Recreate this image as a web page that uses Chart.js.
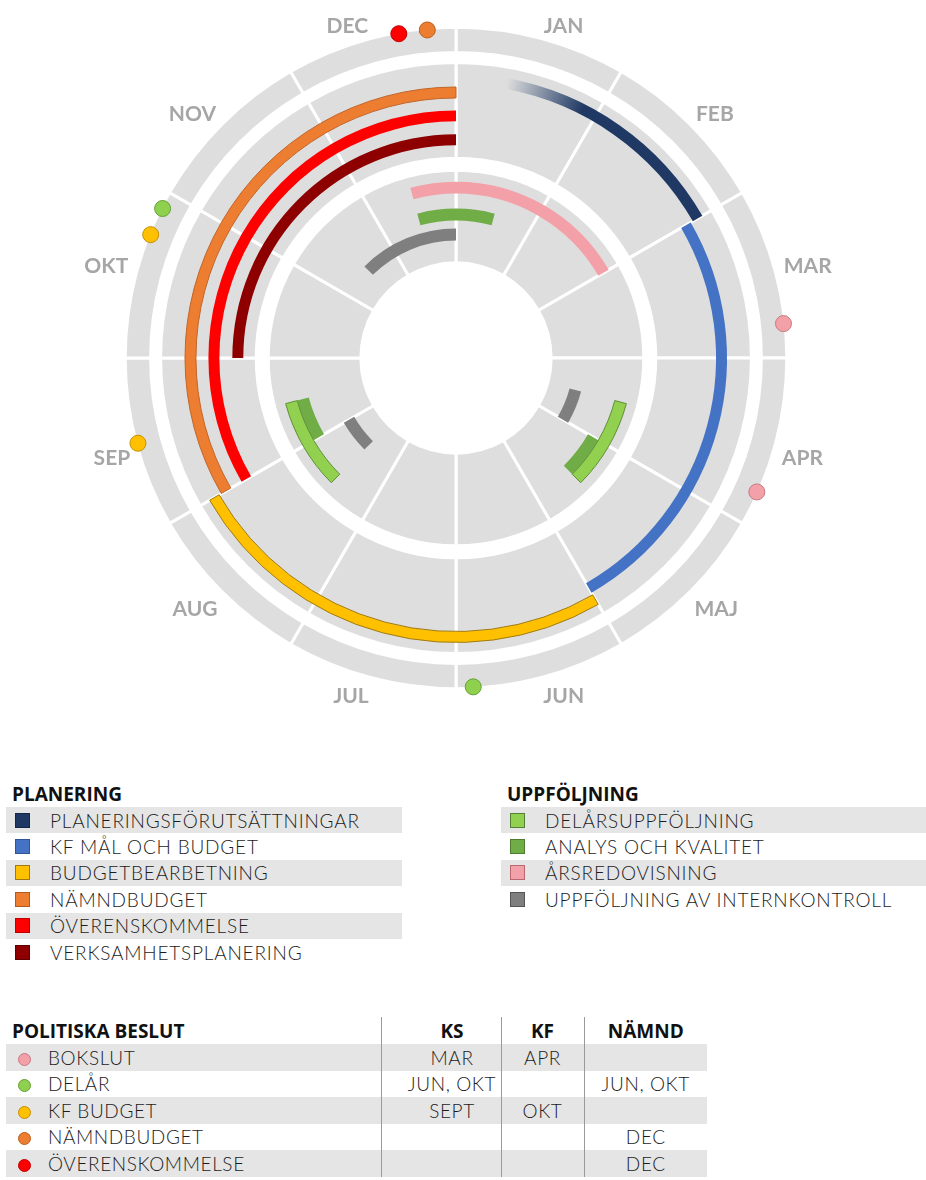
<!DOCTYPE html>
<html lang="sv">
<head>
<meta charset="utf-8">
<title>Årshjul</title>
<script src="https://cdn.jsdelivr.net/npm/chart.js@4.4.1/dist/chart.umd.min.js"></script>
<style>
  html, body { margin: 0; background: #fff; }
  body { position: relative; width: 926px; height: 1180px; overflow: hidden;
         font-family: 'Lato', sans-serif; font-weight: 300; color: #1c1c1c; }
  .wheel { position: absolute; left: 0; top: 7px; }
  .head { font-family: 'Open Sans', sans-serif; font-weight: 700; font-size: 19px; color: #111; }
  .legend { position: absolute; top: 781px; }
  #planering { left: 6px; width: 396px; }
  #uppfoljning { left: 501px; width: 425px; }
  .legend .head { height: 26px; line-height: 26px; padding-left: 6px; }
  .legend .row { height: 26.4px; display: flex; align-items: center; font-size: 19px; letter-spacing: .8px; }
  .legend .row:nth-child(even) { background: #e5e5e5; }
  .sw { width: 15px; height: 15px; box-sizing: border-box; border: 1px solid; margin: 0 20px 0 9px; flex: none; }
  #beslut { position: absolute; left: 6px; top: 1017px; border-collapse: collapse; table-layout: fixed; width: 701px; }
  #beslut td, #beslut th { padding: 0; height: 26.5px; font-size: 19px; letter-spacing: .6px; white-space: nowrap; }
  #beslut th { height: 27px; text-align: center; letter-spacing: 0; }
  #beslut th:first-child { text-align: left; padding-left: 6px; }
  #beslut tbody tr:nth-child(odd) td { background: #e5e5e5; }
  #beslut td + td, #beslut th + th { border-left: 1px solid #9a9a9a; text-align: center; }
  #beslut td:nth-child(2), #beslut th:nth-child(2) { padding-left: 22px; }
  .dot { display: inline-block; width: 13px; height: 13px; border-radius: 50%; box-sizing: border-box;
         border: 1px solid; margin: 0 17px 0 12px; vertical-align: -1px; }
</style>
</head>
<body>
<canvas id="grid" class="wheel" width="912" height="702"></canvas>
<canvas id="arcs" class="wheel" width="912" height="702"></canvas>
<canvas id="labels" class="wheel" width="912" height="702"></canvas>
<div id="planering" class="legend"><div class="head">PLANERING</div></div>
<div id="uppfoljning" class="legend"><div class="head">UPPFÖLJNING</div></div>
<table id="beslut">
  <colgroup><col style="width:375px"><col style="width:120px"><col style="width:83px"><col style="width:123px"></colgroup>
  <thead><tr><th class="head">POLITISKA BESLUT</th><th class="head">KS</th><th class="head">KF</th><th class="head">NÄMND</th></tr></thead>
  <tbody></tbody>
</table>
<script>
const months = ['JAN', 'FEB', 'MAR', 'APR', 'MAJ', 'JUN', 'JUL', 'AUG', 'SEP', 'OKT', 'NOV', 'DEC'];

// periods as [start, end] in months from 1 jan (12 = end of dec, >12 runs into next year)
const planeringsforutsattningar = [[0.35, 2]];
const kfMalOchBudget = [[2, 5]];
const budgetbearbetning = [[5, 8]];
const namndbudget = [[8, 12]];
const overenskommelse = [[8, 12]];
const verksamhetsplanering = [[9, 12]];

const delarsuppfoljning = [[3.5, 4.5], [7.5, 8.5]];
const analysOchKvalitet = [[4, 4.5], [8, 8.5], [11.5, 12.5]];
const arsredovisning = [[11.5, 14]];
const internkontroll = [[3.5, 4], [7.5, 8], [10.5, 12]];

// politiska beslut
const beslut = ['BOKSLUT', 'DELÅR', 'KF BUDGET', 'NÄMNDBUDGET', 'ÖVERENSKOMMELSE'];
const beslutKS = ['MAR', 'JUN, OKT', 'SEPT', '', ''];
const beslutKF = ['APR', '', 'OKT', '', ''];
const beslutNamnd = ['', 'JUN, OKT', '', 'DEC', 'DEC'];
const beslutGrader = [[84, 114], [177, 297], [255, 292], [355], [350]]; // place on the wheel, degrees

// styles
const planering = [
  { name: 'PLANERINGSFÖRUTSÄTTNINGAR', data: planeringsforutsattningar, color: '#1f3864', edge: '#14264a', fade: 0.55 },
  { name: 'KF MÅL OCH BUDGET', data: kfMalOchBudget, color: '#4472c4', edge: '#2f5597' },
  { name: 'BUDGETBEARBETNING', data: budgetbearbetning, color: '#ffc000', edge: '#a07a10', border: '#a07a10' },
  { name: 'NÄMNDBUDGET', data: namndbudget, color: '#ed7d31', edge: '#b05a20', border: '#c0652a' },
  { name: 'ÖVERENSKOMMELSE', data: overenskommelse, color: '#ff0000', edge: '#c00000' },
  { name: 'VERKSAMHETSPLANERING', data: verksamhetsplanering, color: '#8e0000', edge: '#600000' }
];
const uppfoljning = [
  { name: 'DELÅRSUPPFÖLJNING', data: delarsuppfoljning, color: '#92d050', edge: '#548235', border: '#5e8f36' },
  { name: 'ANALYS OCH KVALITET', data: analysOchKvalitet, color: '#70ad47', edge: '#4e7d30' },
  { name: 'ÅRSREDOVISNING', data: arsredovisning, color: '#f4a0a8', edge: '#b86870' },
  { name: 'UPPFÖLJNING AV INTERNKONTROLL', data: internkontroll, color: '#7f7f7f', edge: '#555555' }
];
const beslutFarg = ['#f4a0a8', '#8fd14f', '#ffc000', '#ed7d31', '#ff0000'];
const beslutKant = ['#c87880', '#62a033', '#c49000', '#b85d20', '#c00000'];

// wheel layout, px for an outer radius of 330.5
const center = { x: 456, y: 358 };
const greyRings = [[330.5, 308], [295, 202], [187, 97]];
const divider = 3;
const tracks = [
  { r: 285.5, w: 11, parts: [[planering[0], 0], [planering[2], 0]] },
  { r: 272, w: 11, parts: [[planering[1], 0], [planering[3], 0]] },
  { r: 248.5, w: 11, parts: [[planering[4], 0]] },
  { r: 224.5, w: 11, parts: [[planering[5], 0]] },
  { r: 177, w: 12, parts: [[uppfoljning[2], 0], [uppfoljning[0], 0], [uppfoljning[0], 1]] },
  { r: 165, w: 12, parts: [[uppfoljning[1], 0], [uppfoljning[1], 1]] },
  { r: 150, w: 12, parts: [[uppfoljning[1], 2]] },
  { r: 130, w: 12, parts: [[uppfoljning[3], 0], [uppfoljning[3], 1], [uppfoljning[3], 2]] }
];

const W = 912, H = 702;
const off = { responsive: false, animation: false, events: [],
  plugins: { legend: { display: false }, tooltip: { enabled: false } } };
const pct = x => (x * 100).toFixed(4) + '%';
const upper = i => i < 90 || i > 270;

// month names and decision dots
const degrees = Array.from({ length: 360 }, (_, i) => i);
const radar = new Chart(document.getElementById('labels'), {
  type: 'radar',
  data: {
    labels: degrees,
    datasets: beslut.map((name, i) => ({
      label: name,
      data: degrees.map(d => beslutGrader[i].includes(d) ? 1 : null),
      showLine: false, fill: false, borderWidth: 0,
      backgroundColor: 'transparent', borderColor: 'transparent',
      pointRadius: 8, pointHoverRadius: 8, pointBorderWidth: 1,
      pointBackgroundColor: beslutFarg[i], pointBorderColor: beslutKant[i]
    }))
  },
  options: {
    ...off,
    scales: {
      r: {
        min: 0, max: 1, startAngle: 0,
        grid: { display: false }, angleLines: { display: false }, ticks: { display: false },
        pointLabels: {
          callback: (v, i) => (i % 30 === 15 ? months[(i - 15) / 30] : ''),
          color: '#a6a6a6',
          padding: c => (c.label ? (upper(c.index) ? 10 : 8) : 0),
          font: c => ({ family: 'Lato', weight: 'bold', size: c.label ? 21 : 1,
            lineHeight: c.label && upper(c.index) ? 0.4 : 1.2 })
        }
      }
    }
  }
});

const sc = radar.scales.r;
const k = sc.drawingArea / 330.5;
document.querySelectorAll('.wheel').forEach(cv => {
  cv.style.left = (center.x - sc.xCenter) + 'px';
  cv.style.top = (center.y - sc.yCenter) + 'px';
});
const pad = {
  left: Math.max(0, 2 * sc.xCenter - W), right: Math.max(0, W - 2 * sc.xCenter),
  top: Math.max(0, 2 * sc.yCenter - H), bottom: Math.max(0, H - 2 * sc.yCenter)
};

// grey month rings
const greySets = [];
greyRings.forEach(([o, i], n) => {
  greySets.push({ data: months.map(() => 1), backgroundColor: '#dedede', borderColor: '#ffffff',
    borderWidth: divider, weight: o - i + divider });
  const next = greyRings[n + 1];
  if (next) greySets.push({ data: [12], backgroundColor: 'transparent', borderWidth: 0, weight: i - next[0] - divider });
});
const outerG = greyRings[0][0] + divider / 2;
const innerG = greyRings[greyRings.length - 1][1] - divider / 2;
new Chart(document.getElementById('grid'), {
  type: 'doughnut',
  data: { datasets: greySets },
  options: { ...off, layout: { padding: pad }, radius: outerG * k, cutout: pct(innerG / outerG) }
});

// coloured periods
function segments(parts) {
  const pieces = [];
  parts.forEach(([serie, idx]) => {
    const [a, b] = serie.data[idx];
    if (b > 12) {
      pieces.push({ a, b: 12, serie });
      pieces.push({ a: 0, b: b - 12, serie });
    } else {
      pieces.push({ a, b, serie });
    }
  });
  pieces.sort((p, q) => p.a - q.a);
  const segs = [];
  let at = 0;
  pieces.forEach(p => {
    if (p.a > at) segs.push({ len: p.a - at, serie: null });
    segs.push({ len: p.b - p.a, serie: p.serie });
    at = p.b;
  });
  if (at < 12) segs.push({ len: 12 - at, serie: null });
  return segs;
}

function rgba(hex, a) {
  const n = parseInt(hex.slice(1), 16);
  return `rgba(${n >> 16},${(n >> 8) & 255},${n & 255},${a})`;
}

function fillFor(seg, chart) {
  if (!seg || !seg.serie) return 'transparent';
  const s = seg.serie;
  if (!s.fade || !chart.chartArea) return s.color;
  const { left, right, top, bottom } = chart.chartArea;
  const g = chart.ctx.createConicGradient(-Math.PI / 2, (left + right) / 2, (top + bottom) / 2);
  const start = s.data[0][0] / 12;
  g.addColorStop(start, rgba(s.color, 0));
  g.addColorStop(start + s.fade / 12, s.color);
  g.addColorStop(1, s.color);
  return g;
}

const arcSets = [];
tracks.forEach((t, n) => {
  const segs = segments(t.parts);
  arcSets.push({
    data: segs.map(s => s.len),
    backgroundColor: c => fillFor(segs[c.dataIndex], c.chart),
    borderColor: segs.map(s => (s.serie && s.serie.border) || 'transparent'),
    borderWidth: segs.map(s => (s.serie && s.serie.border ? 1 : 0)),
    weight: t.w
  });
  const next = tracks[n + 1];
  if (next && t.r - t.w - next.r > 0) {
    arcSets.push({ data: [12], backgroundColor: 'transparent', borderWidth: 0, weight: t.r - t.w - next.r });
  }
});
const lastT = tracks[tracks.length - 1];
new Chart(document.getElementById('arcs'), {
  type: 'doughnut',
  data: { datasets: arcSets },
  options: { ...off, layout: { padding: pad }, radius: tracks[0].r * k, cutout: pct((lastT.r - lastT.w) / tracks[0].r) }
});

// legends
function legend(id, series) {
  const box = document.getElementById(id);
  series.forEach(s => {
    const row = document.createElement('div');
    row.className = 'row';
    row.innerHTML = `<span class="sw" style="background:${s.color};border-color:${s.edge}"></span>${s.name}`;
    box.appendChild(row);
  });
}
legend('planering', planering);
legend('uppfoljning', uppfoljning);

const body = document.querySelector('#beslut tbody');
beslut.forEach((name, i) => {
  const tr = document.createElement('tr');
  tr.innerHTML = `<td><span class="dot" style="background:${beslutFarg[i]};border-color:${beslutKant[i]}"></span>${name}</td>` +
    `<td>${beslutKS[i]}</td><td>${beslutKF[i]}</td><td>${beslutNamnd[i]}</td>`;
  body.appendChild(tr);
});
</script>
</body>
</html>
